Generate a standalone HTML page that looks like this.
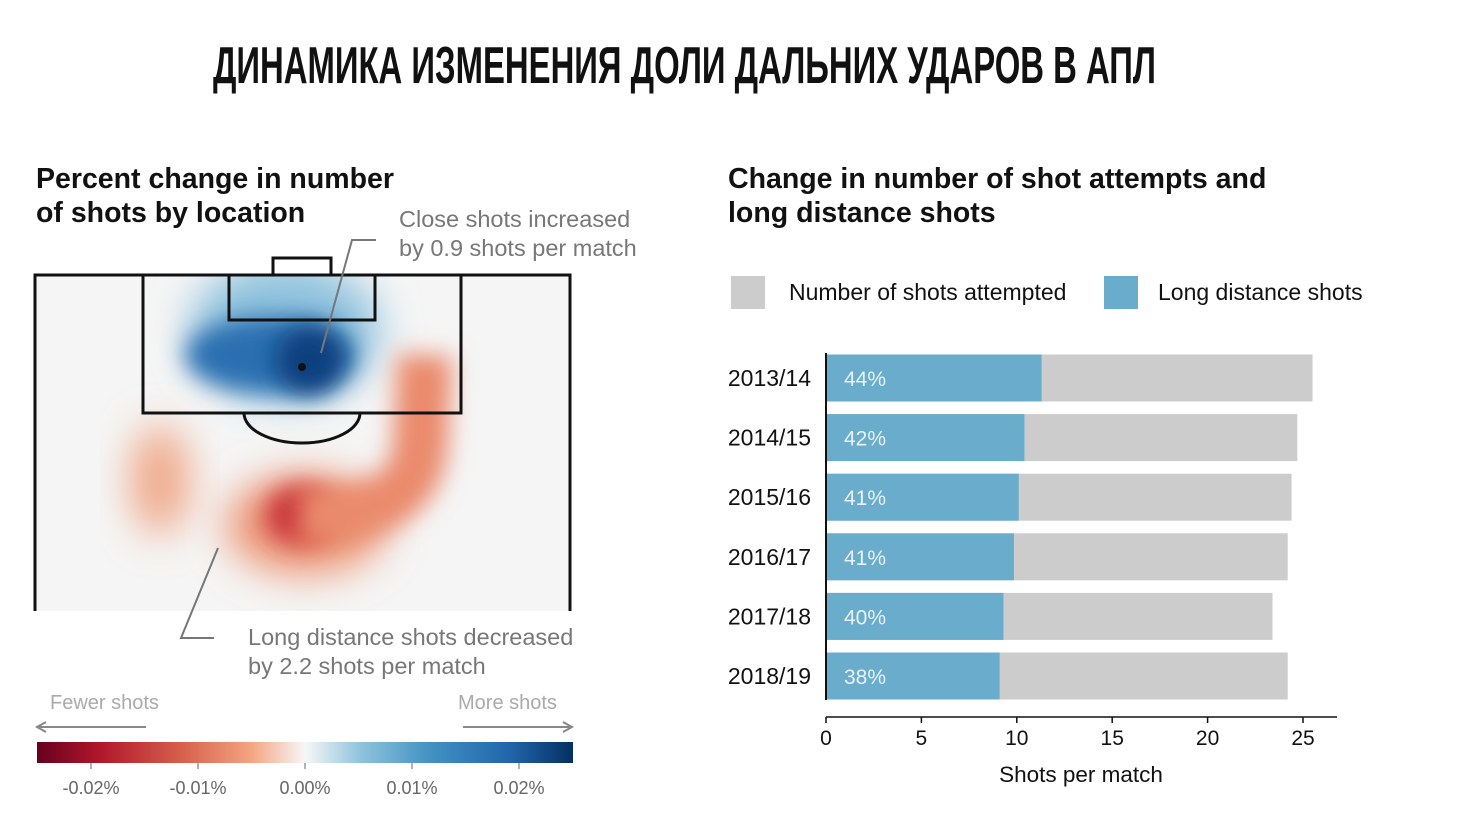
<!DOCTYPE html>
<html><head><meta charset="utf-8"><style>
body{margin:0;background:#fff;width:1460px;height:821px;overflow:hidden;font-family:"Liberation Sans",sans-serif}
.t{position:absolute;white-space:nowrap}
</style></head><body>
<div class="t" style="left:213px;top:38px;font-family:'Liberation Sans Narrow','Liberation Sans',sans-serif;font-weight:bold;font-size:52px;line-height:56px;color:#111;transform:scaleX(0.632);transform-origin:left top;letter-spacing:0px">ДИНАМИКА ИЗМЕНЕНИЯ ДОЛИ ДАЛЬНИХ УДАРОВ В АПЛ</div>
<div class="t" style="left:36px;top:162px;font-size:28.5px;font-weight:bold;line-height:34px;color:#111">Percent change in number<br>of shots by location</div>
<div class="t" style="left:728px;top:162px;font-size:28.5px;font-weight:bold;line-height:34px;color:#111">Change in number of shot attempts and<br>long distance shots</div>
<div class="t" style="left:399px;top:205px;font-size:23.5px;line-height:29px;color:#777">Close shots increased<br>by 0.9 shots per match</div>
<div class="t" style="left:248px;top:623px;font-size:23.5px;line-height:29px;color:#777">Long distance shots decreased<br>by 2.2 shots per match</div>
<div class="t" style="left:50px;top:692px;font-size:20px;color:#aaa">Fewer shots</div>
<div class="t" style="left:458px;top:692px;font-size:20px;color:#aaa">More shots</div>

<svg width="1460" height="821" style="position:absolute;left:0;top:0">
<defs>
<filter id="b1" x="-50%" y="-50%" width="200%" height="200%"><feGaussianBlur stdDeviation="20"/></filter>
<filter id="b2" x="-50%" y="-50%" width="200%" height="200%"><feGaussianBlur stdDeviation="12"/></filter>
<clipPath id="pc"><rect x="35" y="275" width="535" height="336"/></clipPath>
<linearGradient id="cb" x1="0" x2="1"><stop offset="0" stop-color="#67001f"/><stop offset="0.12" stop-color="#b2182b"/><stop offset="0.27" stop-color="#d6604d"/><stop offset="0.4" stop-color="#f4a582"/><stop offset="0.5" stop-color="#f7f7f7"/><stop offset="0.6" stop-color="#92c5de"/><stop offset="0.73" stop-color="#4393c3"/><stop offset="0.88" stop-color="#2166ac"/><stop offset="1" stop-color="#053061"/></linearGradient>
</defs>
<rect x="35" y="275" width="535" height="336" fill="#f5f5f5"/>
<g clip-path="url(#pc)">
<ellipse cx="285" cy="330" rx="95" ry="70" fill="#8fc2de" filter="url(#b1)"/>
<ellipse cx="270" cy="355" rx="85" ry="38" fill="#2b6fb0" filter="url(#b2)"/>
<ellipse cx="310" cy="360" rx="35" ry="35" fill="#0d3f7f" filter="url(#b2)"/>
<ellipse cx="160" cy="480" rx="30" ry="55" fill="#f0a98a" filter="url(#b1)"/>
<ellipse cx="305" cy="525" rx="80" ry="50" fill="#ec9675" filter="url(#b1)"/>
<ellipse cx="300" cy="515" rx="35" ry="30" fill="#c9343a" filter="url(#b2)"/>
<path d="M300 515 Q410 520 420 450 L425 355" stroke="#ea8a6c" stroke-width="55" fill="none" filter="url(#b2)"/>
</g>
<g stroke="#111" stroke-width="3" fill="none">
<path d="M35 611 V275 H570 V611"/>
<rect x="143" y="275" width="318" height="138"/>
<rect x="229" y="275" width="146" height="45"/>
<path d="M273 275 V258 H331 V275"/>
<path d="M244 413 A58 30 0 0 0 360 413"/>
</g>
<circle cx="302" cy="367" r="4" fill="#111"/>
<path d="M376 240 H352 L321 353" stroke="#777" stroke-width="2" fill="none"/>
<path d="M218 548 L181 638 H214" stroke="#777" stroke-width="2" fill="none"/>
<path d="M146 727 H38 M46 722 L37 727 L46 732" stroke="#888" stroke-width="2" fill="none"/>
<path d="M463 727 H571 M563 722 L572 727 L563 732" stroke="#888" stroke-width="2" fill="none"/>
<rect x="37" y="742" width="536" height="21" fill="url(#cb)"/>
<g stroke="#666" stroke-width="1"><path d="M91 763v6M198 763v6M305 763v6M412 763v6M519 763v6"/></g>
<g font-size="18" fill="#666" text-anchor="middle" font-family="Liberation Sans,sans-serif">
<text x="91" y="794">-0.02%</text><text x="198" y="794">-0.01%</text><text x="305" y="794">0.00%</text><text x="412" y="794">0.01%</text><text x="519" y="794">0.02%</text></g>
</svg>

<svg id="bar" width="1460" height="821" style="position:absolute;left:0;top:0;font-family:'Liberation Sans',sans-serif"></svg>
<script>
const seasons=["2013/14","2014/15","2015/16","2016/17","2017/18","2018/19"];
const totalShots=[25.5,24.7,24.4,24.2,23.4,24.2];
const longShots=[11.3,10.4,10.1,9.85,9.3,9.1];
const pctLabels=["44%","42%","41%","41%","40%","38%"];
const xTicks=[0,5,10,15,20,25];
const NS="http://www.w3.org/2000/svg";
const svg=document.getElementById('bar');
const X=v=>826+v*19.08;
const Y=i=>378+i*59.6;
function mk(t,a,txt){const e=document.createElementNS(NS,t);for(const k in a)e.setAttribute(k,a[k]);if(txt!==undefined)e.textContent=txt;svg.appendChild(e);return e;}
let e;
e=mk('rect',{x:731,y:276,width:34,height:33,fill:'#cccccc'});


e=mk('text',{x:789,y:300,'font-size':23,fill:'#111'},'Number of shots attempted');


e=mk('rect',{x:1104,y:276,width:34,height:33,fill:'#6aaccc'});


e=mk('text',{x:1158,y:300,'font-size':23,fill:'#111'},'Long distance shots');


seasons.forEach((s,i)=>{
 let r=mk('rect',{x:X(0),y:Y(i)-23.5,width:X(totalShots[i])-X(0),height:47,fill:'#cccccc'});
 
 
 r=mk('rect',{x:X(0),y:Y(i)-23.5,width:X(longShots[i])-X(0),height:47,fill:'#6aaccc'});
 
 
 let t=mk('text',{x:844,y:Y(i)+8,'font-size':21,fill:'#e8f2f8'},pctLabels[i]);
 
 
 t=mk('text',{x:811,y:Y(i)+8,'font-size':23,fill:'#111','text-anchor':'end'},s);
 
 
});
e=mk('path',{d:'M826 353 V700',stroke:'#111','stroke-width':2});


e=mk('path',{d:'M826 717 H1337',stroke:'#111','stroke-width':1.5});


xTicks.forEach(v=>{
 let l=mk('path',{d:`M${X(v)} 717 V723`,stroke:'#111','stroke-width':1.5});
 
 
 let t=mk('text',{x:X(v),y:745,'font-size':21,fill:'#111','text-anchor':'middle'},String(v));
 
 
});
e=mk('text',{x:1081,y:782,'font-size':22.5,fill:'#111','text-anchor':'middle'},'Shots per match');


</script>
</body></html>
